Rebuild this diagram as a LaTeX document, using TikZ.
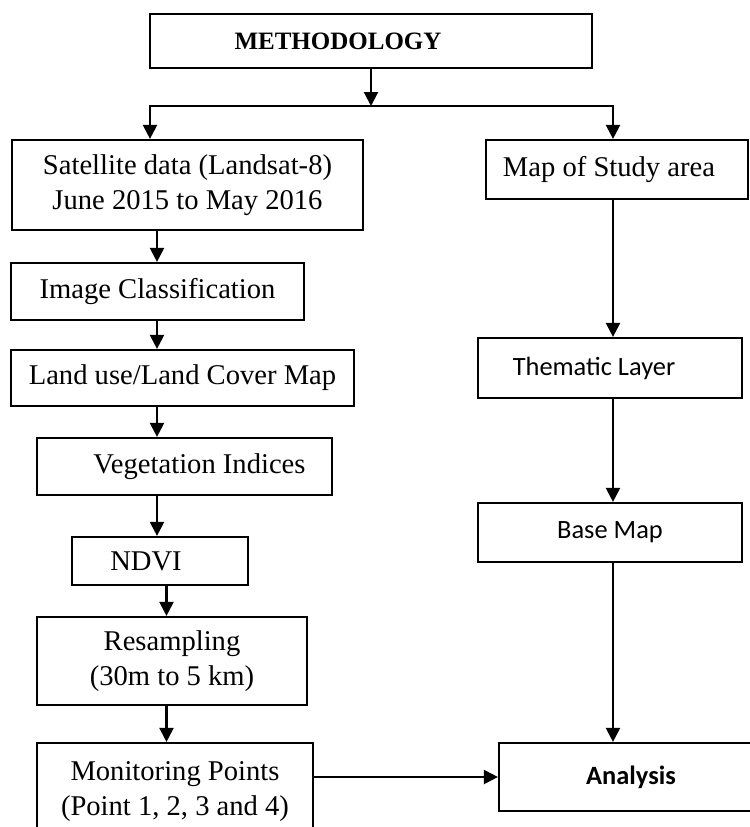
\documentclass[tikz,border=0pt]{standalone}
\usepackage{fontspec}
\setmainfont{Liberation Serif}
\newfontfamily\calibri{Carlito}
\usetikzlibrary{arrows.meta, positioning}

\begin{document}
\begin{tikzpicture}[
  x=0.5pt, y=-0.5pt,
  box/.style={draw, line width=1.1pt, align=center, inner sep=0pt,
              font=\fontsize{14.3}{17.5}\selectfont},
  sansbox/.style={box, font=\calibri\fontsize{13.2}{16}\selectfont},
  arr/.style={line width=1.1pt, -{Triangle[length=7pt, width=7pt]}}
]
  \path[fill=white, use as bounding box] (0,0) rectangle (750,827);

  % left column
  \node[box, font=\bfseries\fontsize{12.5}{15}\selectfont,
        minimum width=221pt, minimum height=27pt] (meth) at (371,41) {METHODOLOGY\hspace*{33pt}};
  \node[box, minimum width=175.5pt, minimum height=45pt] (sat) at (187.5,185) {Satellite data (Landsat-8)\\June 2015 to May 2016};
  \node[box, minimum width=146.5pt, minimum height=28.5pt] (imgc) at (157.5,291.5) {Image Classification};
  \node[box, minimum width=171.5pt, minimum height=28pt] (lulc) at (182.5,378) {Land use/Land Cover Map};
  \node[box, minimum width=147.5pt, minimum height=28.5pt] (veg) at (184.5,466.5) {\hspace*{15pt}Vegetation Indices};
  \node[box, minimum width=88pt, minimum height=24pt] (ndvi) at (160,561) {NDVI\hspace*{14pt}};
  \node[box, minimum width=135pt, minimum height=44pt] (resamp) at (172,661) {Resampling\\(30m to 5 km)};
  \node[box, minimum width=138pt, minimum height=48.5pt] (mon) at (175,791.5) {Monitoring Points\\(Point 1, 2, 3 and 4)};

  % right column
  \node[box, minimum width=131pt, minimum height=29.5pt] (map) at (617,169.5) {Map of Study area\hspace*{8pt}};
  \node[sansbox, minimum width=132pt, minimum height=30pt] (them) at (610,368) {Thematic Layer\hspace*{16pt}};
  \node[sansbox, minimum width=132pt, minimum height=29.5pt] (base) at (610,532.5) {Base Map};
  \node[sansbox, font=\calibri\bfseries\fontsize{13.2}{16}\selectfont,
        minimum width=132pt, minimum height=34pt] (anal) at (631,777) {Analysis};

  \coordinate (split) at (371,106);
  \coordinate (spineL) at (157,0);
  \coordinate (spineM) at (166.5,0);
  \coordinate (spineR) at (613,0);
  \coordinate (satin) at (150,0);

  \draw[arr] (meth.south) -- (split);
  \draw[arr] (split) -| (sat.north -| satin);
  \draw[arr] (split) -| (map.north -| spineR);

  \draw[arr] (sat.south -| spineL) -- (imgc.north -| spineL);
  \draw[arr] (imgc.south -| spineL) -- (lulc.north -| spineL);
  \draw[arr] (lulc.south -| spineL) -- (veg.north -| spineL);
  \draw[arr] (veg.south -| spineL) -- (ndvi.north -| spineL);
  \draw[arr] (ndvi.south -| spineM) -- (resamp.north -| spineM);
  \draw[arr] (resamp.south -| spineM) -- (mon.north -| spineM);

  \draw[arr] (map.south -| spineR) -- (them.north -| spineR);
  \draw[arr] (them.south -| spineR) -- (base.north -| spineR);
  \draw[arr] (base.south -| spineR) -- (anal.north -| spineR);
  \draw[arr] (anal.west -| mon.east) -- (anal.west);
\end{tikzpicture}
\end{document}
